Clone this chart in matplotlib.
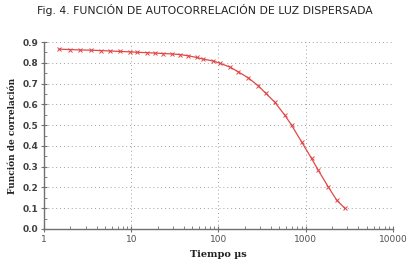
import matplotlib
matplotlib.use("Agg")
import matplotlib.pyplot as plt
import numpy as np
from matplotlib.ticker import FixedLocator, NullFormatter

# tiempo (us) y funcion de correlacion
tiempo = [1.49, 1.99, 2.58, 3.45, 4.50, 5.70, 7.42, 9.66, 11.6, 15.1, 18.7, 23.1,
          29.0, 36.1, 45.0, 56.1, 66.8, 86.9, 104, 135, 168, 219, 285, 349, 443,
          576, 688, 895, 1165, 1387, 1806, 2254, 2805]
correlacion = [0.866, 0.864, 0.862, 0.861, 0.859, 0.857, 0.855, 0.853, 0.851, 0.849,
               0.847, 0.845, 0.843, 0.840, 0.834, 0.826, 0.818, 0.809, 0.798, 0.780,
               0.757, 0.728, 0.690, 0.653, 0.610, 0.548, 0.500, 0.420, 0.340, 0.284,
               0.204, 0.140, 0.100]
x_ticks = [1, 10, 100, 1000, 10000]
x_labels = ["1", "10", "100", "1000", "10000"]
y_ticks = [0.0, 0.1, 0.2, 0.3, 0.4, 0.5, 0.6, 0.7, 0.8, 0.9]

fig = plt.figure(figsize=(4.12, 2.64), dpi=100)
ax = fig.add_axes([0.1068, 0.1326, 0.847, 0.708])

ax.plot(tiempo, correlacion, color="#e04848", lw=0.9, marker="x", ms=2.5, mew=0.7)

ax.set_xscale("log")
ax.set_xlim(1, 10000)
ax.set_ylim(0, 0.9)
ax.set_xticks(x_ticks)
ax.set_xticklabels(x_labels)
ax.xaxis.set_minor_locator(FixedLocator([k * 10**e for e in range(4) for k in range(2, 10)]))
ax.xaxis.set_minor_formatter(NullFormatter())
ax.set_yticks(y_ticks)
ax.set_yticklabels(["%.1f" % v for v in y_ticks])
ax.yaxis.set_minor_locator(FixedLocator(np.arange(0.05, 0.9, 0.1)))

for s in ["top", "right"]:
    ax.spines[s].set_visible(False)
for s in ["left", "bottom"]:
    ax.spines[s].set_color("#707070")
    ax.spines[s].set_linewidth(1.0)

ax.grid(True, which="major", color="#a0a0a0", ls=(0, (1, 3)), lw=0.7)
ax.tick_params(which="major", direction="inout", length=4, width=0.8, color="#707070",
               labelsize=6.5, labelcolor="#404040", pad=2)
ax.tick_params(which="minor", direction="in", length=2, width=0.6, color="#707070")
for lab in ax.get_yticklabels():
    lab.set_fontweight("bold")
for lab in ax.get_xticklabels():
    lab.set_color("#505050")

ax.set_ylabel("Función de correlación", family="DejaVu Serif", fontweight="bold",
              fontsize=6.5, color="#202020", labelpad=4)
ax.set_xlabel("Tiempo µs", family="DejaVu Serif", fontweight="bold",
              fontsize=7, color="#202020", labelpad=5)

fig.text(0.497, 0.963, "Fig. 4. FUNCIÓN DE AUTOCORRELACIÓN DE LUZ DISPERSADA",
         ha="center", va="center", fontsize=7.8, color="#222222",
         family="DejaVu Sans")

fig.savefig("out.png", dpi=100)
